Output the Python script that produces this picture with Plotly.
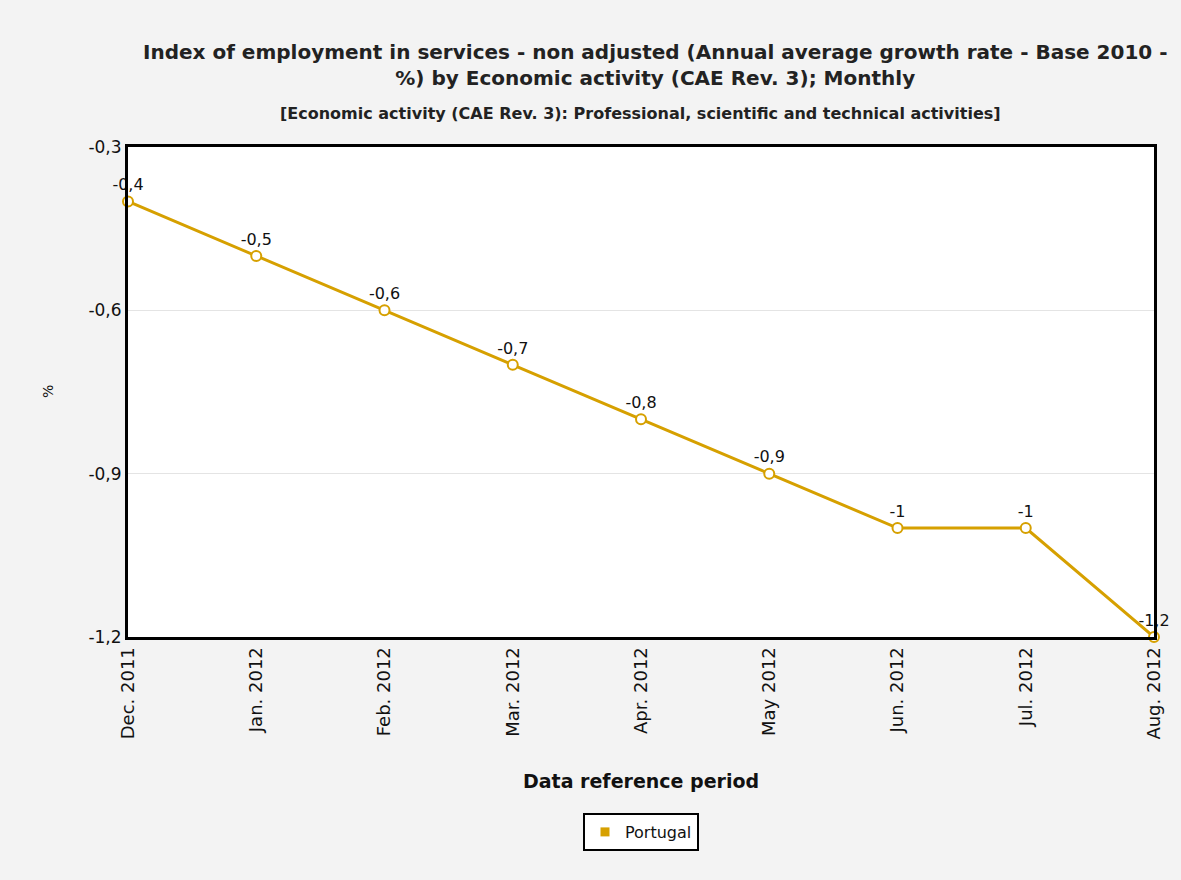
import plotly.graph_objects as go

periods = ["Dec. 2011", "Jan. 2012", "Feb. 2012", "Mar. 2012", "Apr. 2012",
           "May 2012", "Jun. 2012", "Jul. 2012", "Aug. 2012"]
values = [-0.4, -0.5, -0.6, -0.7, -0.8, -0.9, -1.0, -1.0, -1.2]
value_labels = ["-0,4", "-0,5", "-0,6", "-0,7", "-0,8", "-0,9", "-1", "-1", "-1,2"]
y_ticks = [-0.3, -0.6, -0.9, -1.2]
y_tick_labels = ["-0,3", "-0,6", "-0,9", "-1,2"]

W, H = 1181, 880
L, R, T, B = 128, 27, 147, 243
ph = H - T - B

def py(ypix):
    return (H - B - ypix) / ph

def px(xpix):
    return (xpix - L) / (W - L - R)

gold = "#D6A000"
font = "DejaVu Sans, Verdana, sans-serif"

fig = go.Figure()
fig.add_trace(go.Scatter(
    x=list(range(len(periods))), y=values, name="Portugal",
    mode="lines+markers+text", showlegend=False,
    line=dict(color=gold, width=3),
    marker=dict(symbol="circle", size=10, color="white", line=dict(color=gold, width=2)),
    text=value_labels, textposition="top center",
    textfont=dict(family=font, size=16, color="#111"),
    cliponaxis=False,
))
# legend entry (square swatch, as in the reference)
fig.add_trace(go.Scatter(
    x=[None], y=[None], name="Portugal", mode="markers",
    marker=dict(symbol="square", size=9, color=gold),
))

fig.update_layout(
    width=W, height=H,
    paper_bgcolor="#f3f3f3", plot_bgcolor="white",
    margin=dict(l=L, r=R, t=T, b=B),
    showlegend=True,
    legend=dict(x=0.5, xanchor="center", y=py(813), yanchor="top",
                bordercolor="black", borderwidth=2, bgcolor="white",
                font=dict(family=font, size=16, color="#111")),
    xaxis=dict(range=[0, 8], tickmode="array", tickvals=list(range(len(periods))),
               ticktext=periods, tickangle=-90, showgrid=False, zeroline=False,
               showline=True, linecolor="black", linewidth=3, mirror=True,
               ticks="", tickfont=dict(family=font, size=18, color="#111")),
    yaxis=dict(range=[-1.2, -0.3], tickmode="array", tickvals=y_ticks,
               ticktext=y_tick_labels, showgrid=True, gridcolor="#e4e4e4",
               zeroline=False, showline=True, linecolor="black", linewidth=3,
               mirror=True, ticks="", tickfont=dict(family=font, size=17, color="#111")),
    annotations=[
        dict(text="<b>Index of employment in services - non adjusted (Annual average growth rate - Base 2010 -<br>%) by Economic activity (CAE Rev. 3); Monthly</b>",
             x=px(655), y=py(65), xref="paper", yref="paper", showarrow=False,
             xanchor="center", yanchor="middle",
             font=dict(family=font, size=20, color="#222"), align="center"),
        dict(text="<b>[Economic activity (CAE Rev. 3): Professional, scientific and technical activities]</b>",
             x=px(640), y=py(113), xref="paper", yref="paper", showarrow=False,
             xanchor="center", yanchor="middle",
             font=dict(family=font, size=16, color="#222"), align="center"),
        dict(text="<b>Data reference period</b>", x=px(641), y=py(781), xref="paper", yref="paper",
             xanchor="center", yanchor="middle",
             showarrow=False, font=dict(family=font, size=19, color="#111")),
        dict(text="%", x=px(48), y=py(392), xref="paper", yref="paper", textangle=-90,
             xanchor="center", yanchor="middle",
             showarrow=False, font=dict(family=font, size=14, color="#111")),
    ],
)

fig.write_html("out.html")
